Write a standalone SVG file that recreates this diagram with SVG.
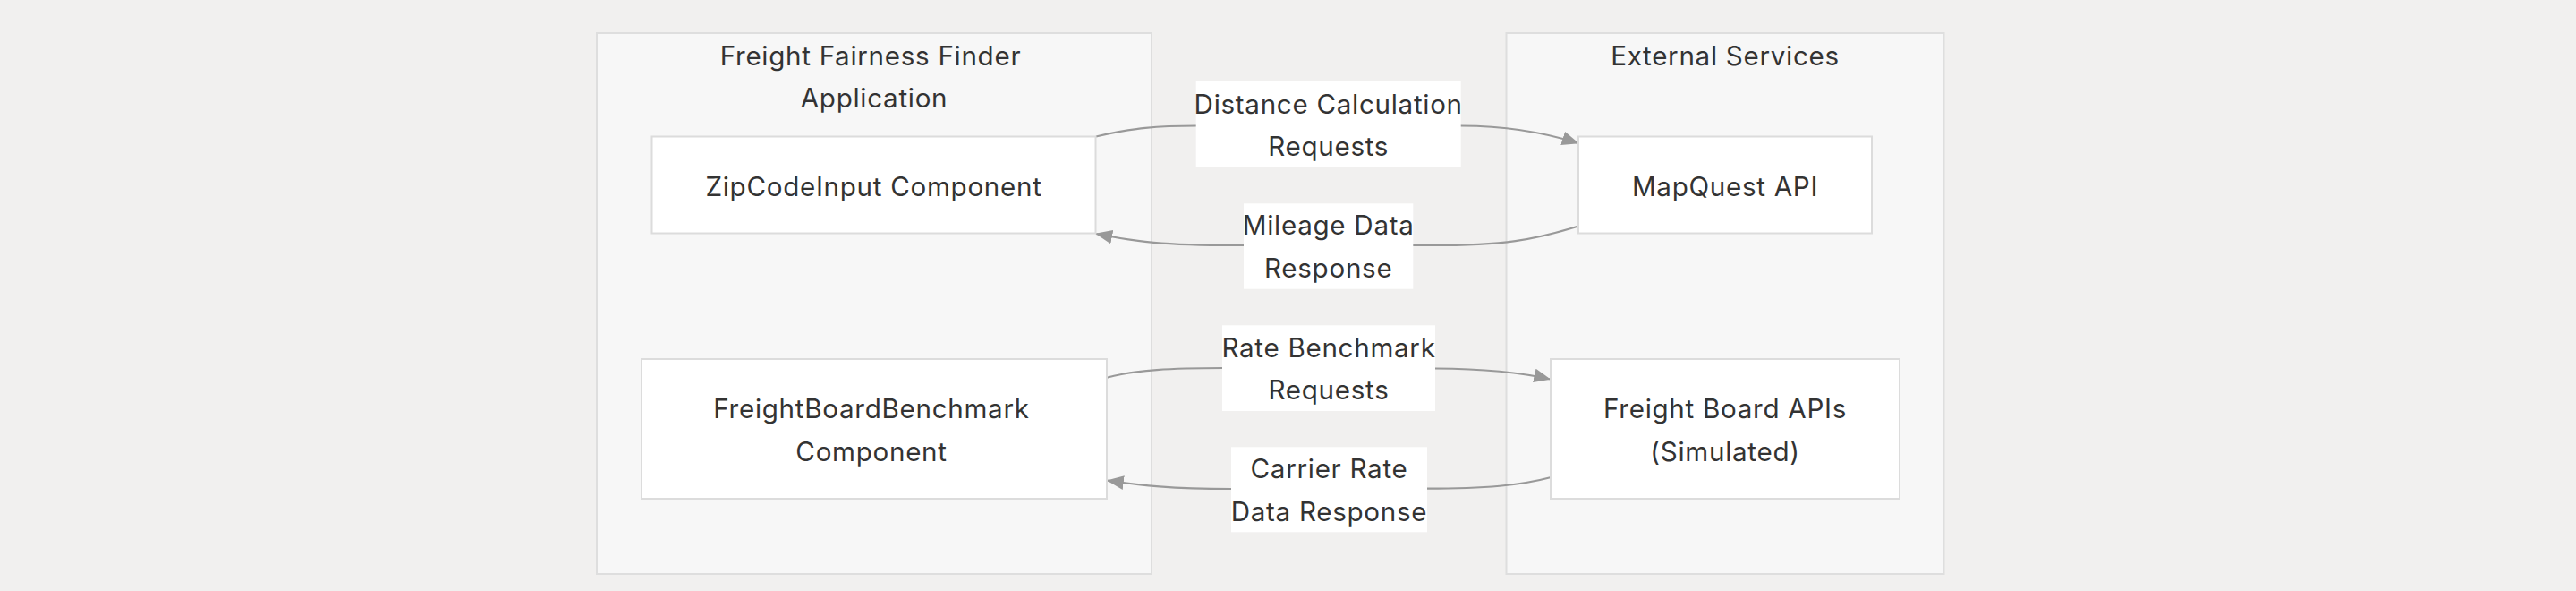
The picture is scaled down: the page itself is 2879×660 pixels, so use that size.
<svg xmlns="http://www.w3.org/2000/svg" width="2879" height="660" viewBox="0 0 2879 660">
<defs>
<style>
.bg{fill:#f1f0ef}
.cluster{fill:#f7f7f7;stroke:#dedede;stroke-width:2}
.node{fill:#ffffff;stroke:#dcdcdc;stroke-width:2}
.lbl{fill:#ffffff}
.edge{fill:none;stroke:#999999;stroke-width:2.2}
text{font-family:Inter,"Open Sans","Liberation Sans",sans-serif;font-size:29.6px;letter-spacing:0.7px;fill:#333333;text-anchor:middle}
</style>
<marker id="arrow" viewBox="0 0 12 10" refX="11.5" refY="5" markerUnits="userSpaceOnUse" markerWidth="19" markerHeight="16" orient="auto">
<path d="M0,0 L12,5 L0,10 z" fill="#999999"/>
</marker>
</defs>
<rect class="bg" x="0" y="0" width="2879" height="660"/>
<g id="cluster-app">
<rect class="cluster" x="667" y="37" width="620" height="604"/>
<text x="973" y="73">Freight Fairness Finder</text>
<text x="977" y="120">Application</text>
</g>
<g id="cluster-external">
<rect class="cluster" x="1683.5" y="37" width="489" height="604"/>
<text x="1928" y="73">External Services</text>
</g>
<g id="connectors">
<path class="edge" d="M1225,152.5 C1265,143 1295,140.5 1336.7,140.5 L1632.7,140.5 C1680,140.5 1720,146 1764,160" marker-end="url(#arrow)"/>
<path class="edge" d="M1764,252.5 C1715,268 1680,274 1600,274 L1380,274 C1300,274 1270,270 1225,261" marker-end="url(#arrow)"/>
<path class="edge" d="M1237,421.7 C1270,413 1310,411 1366,411 L1604,411.5 C1660,412 1700,416 1732.5,423.5" marker-end="url(#arrow)"/>
<path class="edge" d="M1732.5,533.3 C1700,542 1660,545.7 1595,545.7 L1376,546 C1300,546 1270,541 1237.7,536.7" marker-end="url(#arrow)"/>
<g id="label-distance">
<rect class="lbl" x="1336.7" y="91" width="296" height="95.7"/>
<text x="1484.7" y="126.7">Distance Calculation</text>
<text x="1484.7" y="174.3">Requests</text>
</g>
<g id="label-mileage">
<rect class="lbl" x="1390" y="227.3" width="189.3" height="95.4"/>
<text x="1484.7" y="262">Mileage Data</text>
<text x="1484.7" y="309.5">Response</text>
</g>
<g id="label-rate">
<rect class="lbl" x="1366" y="363.3" width="238" height="95.7"/>
<text x="1485" y="398.5">Rate Benchmark</text>
<text x="1485" y="446">Requests</text>
</g>
<g id="label-carrier">
<rect class="lbl" x="1376" y="499.3" width="219" height="95"/>
<text x="1485.5" y="534.2">Carrier Rate</text>
<text x="1485.5" y="581.7">Data Response</text>
</g>
</g>
<g id="node-zipcode">
<rect class="node" x="728.5" y="152.5" width="496" height="108"/>
<text x="976.5" y="218.5">ZipCodeInput Component</text>
</g>
<g id="node-mapquest">
<rect class="node" x="1764" y="152.5" width="328" height="108"/>
<text x="1928" y="218.5">MapQuest API</text>
</g>
<g id="node-fbb">
<rect class="node" x="717" y="401" width="520" height="156"/>
<text x="974" y="466.8">FreightBoardBenchmark</text>
<text x="974" y="514.5">Component</text>
</g>
<g id="node-fbapi">
<rect class="node" x="1733" y="401" width="390" height="156"/>
<text x="1928" y="466.8">Freight Board APIs</text>
<text x="1928" y="514.5">(Simulated)</text>
</g>
</svg>
